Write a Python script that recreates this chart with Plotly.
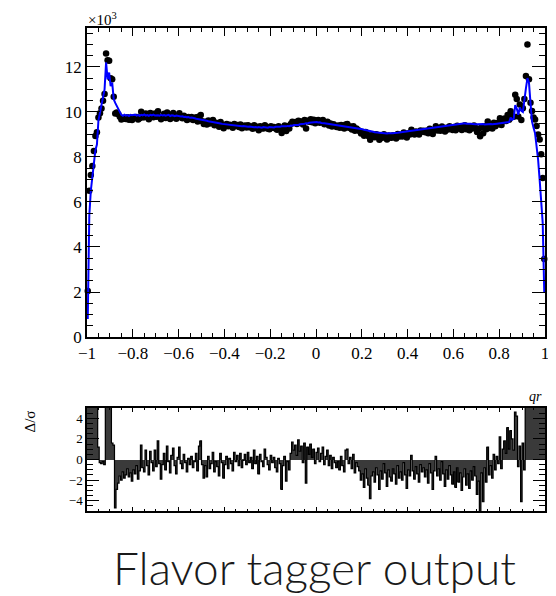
import numpy as np
import plotly.graph_objects as go

# ---- binning of the qr axis ----
n_bins = 300
x_lo, x_hi = -1.0, 1.0

# ---- data (events per bin, in units of 10^3) ----
data_counts = [
    2.04, 6.50, 7.20, 7.60, 8.27, 8.93, 9.10, 9.75, 9.94, 10.15,
    10.50, 10.80, 12.60, 12.30, 12.27, 11.50, 11.45, 10.67, 9.93, 9.98,
    9.90, 9.79, 9.67, 9.71, 9.70, 9.69, 9.77, 9.65, 9.74, 9.64,
    9.75, 9.74, 9.78, 9.67, 9.72, 10.01, 9.77, 9.77, 9.93, 9.80,
    9.68, 9.95, 9.82, 9.77, 9.93, 9.79, 10.03, 9.79, 9.68, 9.79,
    9.92, 9.73, 9.98, 9.85, 9.69, 9.89, 9.95, 9.75, 9.70, 9.84,
    9.94, 9.76, 9.72, 9.83, 9.76, 9.64, 9.78, 9.69, 9.78, 9.64,
    9.70, 9.76, 9.58, 9.80, 9.86, 9.59, 9.47, 9.56, 9.44, 9.62,
    9.49, 9.52, 9.64, 9.41, 9.52, 9.44, 9.34, 9.55, 9.44, 9.28,
    9.40, 9.47, 9.36, 9.43, 9.39, 9.30, 9.47, 9.39, 9.42, 9.33,
    9.44, 9.28, 9.36, 9.40, 9.31, 9.41, 9.32, 9.35, 9.25, 9.41,
    9.29, 9.34, 9.19, 9.37, 9.28, 9.26, 9.41, 9.34, 9.25, 9.23,
    9.36, 9.30, 9.33, 9.26, 9.21, 9.36, 9.30, 9.07, 9.29, 9.40,
    9.15, 9.36, 9.27, 9.46, 9.56, 9.51, 9.55, 9.47, 9.61, 9.53,
    9.58, 9.44, 9.64, 9.27, 9.61, 9.57, 9.68, 9.54, 9.65, 9.50,
    9.62, 9.64, 9.52, 9.57, 9.64, 9.45, 9.52, 9.57, 9.40, 9.49,
    9.35, 9.45, 9.39, 9.33, 9.40, 9.30, 9.42, 9.31, 9.26, 9.44,
    9.46, 9.30, 9.35, 9.22, 9.37, 9.17, 9.26, 9.20, 9.15, 9.04,
    9.09, 8.94, 9.11, 9.00, 8.92, 8.77, 8.97, 9.00, 8.88, 9.01,
    8.92, 8.77, 8.94, 8.85, 9.01, 8.90, 8.78, 8.95, 8.87, 8.85,
    8.96, 8.93, 8.82, 9.02, 8.91, 8.98, 8.91, 9.09, 8.98, 8.86,
    9.05, 9.00, 9.21, 9.07, 9.00, 9.13, 9.07, 9.00, 9.18, 9.12,
    9.17, 9.10, 9.16, 9.05, 9.25, 9.17, 9.02, 9.21, 9.36, 9.18,
    9.26, 9.16, 9.35, 9.24, 9.13, 9.30, 9.22, 9.36, 9.28, 9.20,
    9.33, 9.19, 9.39, 9.26, 9.36, 9.20, 9.32, 9.41, 9.23, 9.35,
    9.19, 9.37, 9.26, 9.40, 9.29, 9.11, 9.25, 8.92, 9.32, 9.05,
    9.36, 9.23, 9.58, 9.29, 9.40, 9.27, 9.52, 9.36, 9.51, 9.45,
    9.72, 9.42, 9.62, 9.71, 9.60, 9.86, 9.65, 10.03, 9.85, 9.79,
    10.76, 10.57, 9.80, 10.33, 9.64, 10.16, 10.58, 11.60, 13.00, 11.45,
    10.41, 10.04, 9.75, 9.67, 9.38, 9.00, 8.78, 8.12, 7.07, 3.47,
]

# ---- fit model per bin (units of 10^3) ----
fit_counts = [
    0.80, 5.40, 6.50, 7.00, 7.70, 8.30, 8.55, 9.63, 9.97, 10.19,
    10.52, 11.00, 12.20, 11.45, 11.75, 11.15, 11.30, 10.56, 10.40, 10.27,
    10.13, 9.95, 9.87, 9.83, 9.88, 9.84, 9.86, 9.82, 9.87, 9.85,
    9.85, 9.88, 9.84, 9.86, 9.83, 9.87, 9.85, 9.89, 9.84, 9.86,
    9.83, 9.87, 9.85, 9.88, 9.84, 9.86, 9.85, 9.83, 9.87, 9.84,
    9.86, 9.83, 9.85, 9.87, 9.82, 9.85, 9.84, 9.81, 9.84, 9.82,
    9.82, 9.80, 9.81, 9.78, 9.79, 9.76, 9.77, 9.74, 9.75, 9.72,
    9.72, 9.70, 9.69, 9.67, 9.68, 9.64, 9.65, 9.62, 9.61, 9.59,
    9.58, 9.56, 9.57, 9.53, 9.54, 9.51, 9.50, 9.49, 9.47, 9.46,
    9.45, 9.44, 9.45, 9.42, 9.43, 9.41, 9.40, 9.41, 9.38, 9.39,
    9.38, 9.36, 9.37, 9.35, 9.36, 9.34, 9.35, 9.33, 9.34, 9.32,
    9.33, 9.31, 9.33, 9.32, 9.30, 9.33, 9.31, 9.32, 9.30, 9.33,
    9.32, 9.33, 9.31, 9.34, 9.33, 9.35, 9.34, 9.36, 9.35, 9.37,
    9.36, 9.38, 9.37, 9.40, 9.39, 9.42, 9.41, 9.43, 9.42, 9.45,
    9.45, 9.47, 9.48, 9.50, 9.49, 9.52, 9.53, 9.52, 9.55, 9.54,
    9.55, 9.53, 9.54, 9.51, 9.52, 9.50, 9.49, 9.48, 9.46, 9.45,
    9.44, 9.43, 9.42, 9.41, 9.42, 9.40, 9.39, 9.37, 9.38, 9.35,
    9.36, 9.34, 9.33, 9.31, 9.32, 9.30, 9.29, 9.27, 9.26, 9.24,
    9.23, 9.21, 9.20, 9.18, 9.17, 9.15, 9.13, 9.12, 9.10, 9.09,
    9.07, 9.06, 9.05, 9.04, 9.05, 9.03, 9.04, 9.05, 9.04, 9.06,
    9.05, 9.07, 9.06, 9.08, 9.09, 9.10, 9.11, 9.12, 9.13, 9.14,
    9.15, 9.16, 9.17, 9.18, 9.19, 9.20, 9.21, 9.22, 9.23, 9.24,
    9.25, 9.27, 9.26, 9.28, 9.29, 9.30, 9.31, 9.32, 9.33, 9.34,
    9.35, 9.36, 9.37, 9.38, 9.39, 9.40, 9.41, 9.42, 9.43, 9.44,
    9.45, 9.46, 9.47, 9.48, 9.49, 9.50, 9.49, 9.50, 9.48, 9.49,
    9.47, 9.48, 9.46, 9.47, 9.45, 9.45, 9.46, 9.44, 9.45, 9.46,
    9.44, 9.45, 9.46, 9.44, 9.46, 9.45, 9.47, 9.46, 9.48, 9.49,
    9.50, 9.51, 9.52, 9.53, 9.54, 9.55, 9.55, 9.75, 9.65, 9.70,
    10.30, 10.15, 9.87, 10.20, 10.05, 10.00, 10.68, 11.05, 11.50, 11.30,
    10.40, 9.57, 9.30, 9.05, 8.46, 7.87, 6.98, 6.10, 5.07, 2.00,
]

# ---- pulls (Delta / sigma) per bin ----
pull_values = [
    8.0, 9.5, 7.5, 6.8, 7.2, 6.1, 5.6, 1.2, -0.3, -0.4,
    -0.2, -0.5, 9.0, 8.0, 7.0, 5.8, 1.6, 1.4, -4.7, -2.9,
    -2.3, -1.6, -2.0, -1.2, -1.8, -1.5, -0.9, -1.7, -1.3, -2.1,
    -1.0, -1.4, -0.6, -1.9, -1.1, 1.4, -0.8, -1.2, 0.9, -0.6,
    -1.5, 0.8, -0.3, -1.1, 0.9, -0.7, 1.8, -0.4, -1.9, -0.5,
    0.6, -1.0, 1.3, -0.2, -1.3, 0.4, 1.1, -0.6, -1.4, 0.2,
    1.2, -0.4, -0.9, 0.5, -0.3, -1.2, 0.1, -0.5, 0.3, -0.8,
    -0.2, 0.6, -1.1, 1.3, 1.8, -0.5, -1.8, -0.6, -1.7, 0.3,
    -0.9, -0.4, 0.7, -1.2, -0.2, -0.7, -1.6, 0.6, -0.3, -1.8,
    -0.5, 0.3, -0.9, 0.1, -0.4, -1.1, 0.7, -0.2, 0.4, -0.6,
    0.6, -0.8, -0.1, 0.5, -0.5, 0.7, -0.3, 0.2, -0.9, 0.9,
    -0.4, 0.3, -1.4, 0.5, -0.2, -0.7, 1.0, 0.2, -0.5, -1.0,
    0.4, -0.3, 0.2, -0.8, -1.2, 0.1, -0.4, -2.9, -0.6, 0.3,
    -2.1, -0.2, -1.0, 0.6, 1.7, 0.9, 1.4, 0.4, 1.9, 0.8,
    1.3, -0.3, 1.6, -2.3, 1.2, 0.5, 1.5, 0.2, 1.0, -0.4,
    0.7, 1.1, -0.2, 0.6, 1.2, -0.5, 0.3, 0.9, -0.6, 0.4,
    -0.9, 0.2, -0.3, -0.8, -0.2, -1.0, 0.3, -0.6, -1.2, 0.9,
    1.0, -0.4, 0.2, -0.9, 0.5, -1.3, -0.3, -0.7, -1.1, -2.0,
    -1.4, -2.7, -0.9, -1.8, -2.5, -3.8, -1.6, -1.2, -2.2, -0.8,
    -1.5, -2.9, -1.1, -1.9, -0.4, -1.3, -2.6, -1.0, -1.7, -2.1,
    -0.9, -1.4, -2.4, -0.6, -1.8, -1.2, -2.0, -0.3, -1.5, -2.8,
    -1.0, -1.6, 0.4, -1.1, -1.9, -0.7, -1.4, -2.2, -0.5, -1.2,
    -0.8, -1.7, -1.0, -2.3, -0.4, -1.3, -2.9, -1.1, 0.3, -1.6,
    -0.9, -2.0, -0.2, -1.4, -2.6, -1.0, -1.9, -0.6, -1.5, -2.4,
    -1.2, -2.7, -0.8, -2.2, -1.3, -3.0, -1.7, -0.9, -2.5, -1.4,
    -2.8, -1.1, -2.0, -0.7, -1.6, -3.4, -2.1, -5.2, -1.3, -4.1,
    -0.8, -2.2, 1.2, -1.5, -0.6, -1.8, 0.5, -1.0, 0.3, -0.4,
    2.2, -0.9, 1.0, 1.8, 0.6, 3.1, 1.0, 2.8, 2.0, 0.9,
    4.6, 4.2, -0.7, 1.3, -4.1, 1.6, -1.0, 6.2, 9.0, 7.5,
    6.8, 6.0, 7.1, 6.4, 8.2, 7.0, 6.6, 9.3, 8.1, 10.0,
]

assert len(data_counts) == n_bins and len(fit_counts) == n_bins and len(pull_values) == n_bins

title_text = "Flavor tagger output"
x_title = "qr"
pull_title = "Δ/σ"
y_scale_text = "×10<sup>3</sup>"

bin_w = (x_hi - x_lo) / n_bins
centers = x_lo + (np.arange(n_bins) + 0.5) * bin_w
data_arr = np.array(data_counts)
data_err = np.sqrt(data_arr * 1000.0) / 1000.0

SERIF = "Liberation Serif"

fig = go.Figure()

fig.add_trace(go.Scatter(
    x=centers, y=data_arr, mode="markers",
    marker=dict(color="black", size=6.5),
    error_y=dict(type="data", array=data_err, color="black", thickness=1, width=0),
    xaxis="x", yaxis="y", showlegend=False, cliponaxis=False,
))
fig.add_trace(go.Scatter(
    x=centers, y=fit_counts, mode="lines",
    line=dict(color="#0000ff", width=2),
    xaxis="x", yaxis="y", showlegend=False,
))

fig.add_trace(go.Bar(
    x=centers, y=pull_values, width=bin_w,
    marker=dict(color="#3a3a3a", line=dict(width=0)),
    xaxis="x2", yaxis="y2", showlegend=False,
))
fig.add_trace(go.Scatter(
    x=centers, y=pull_values, mode="lines",
    line=dict(color="black", width=1.2, shape="hvh"),
    xaxis="x2", yaxis="y2", showlegend=False,
))

axis_common = dict(
    showline=True, linecolor="black", linewidth=1.5, mirror="ticks",
    ticks="inside", tickcolor="black", showgrid=False, zeroline=False,
)

# The page body adds an 8px offset, so the figure is 8px smaller and margins shifted.
fig.update_layout(
    width=548, height=588,
    margin=dict(l=79, r=7, t=20, b=85),
    paper_bgcolor="white", plot_bgcolor="white",
    bargap=0,
    xaxis=dict(
        domain=[0, 1], anchor="y", range=[x_lo, x_hi],
        tickmode="linear", tick0=-1, dtick=0.2, ticklen=8, tickwidth=1.3,
        minor=dict(ticks="inside", dtick=0.05, tick0=-1, ticklen=4, tickcolor="black", tickwidth=1),
        tickfont=dict(family=SERIF, size=17, color="black"),
        **axis_common,
    ),
    yaxis=dict(
        domain=[0.3602, 1], anchor="x", range=[0, 13.73],
        tickmode="linear", tick0=0, dtick=2, ticklen=13, tickwidth=1.3,
        minor=dict(ticks="inside", dtick=0.5, tick0=0, ticklen=6.5, tickcolor="black", tickwidth=1),
        tickfont=dict(family=SERIF, size=17, color="black"),
        **axis_common,
    ),
    xaxis2=dict(
        domain=[0, 1], anchor="y2", range=[x_lo, x_hi],
        tickmode="linear", tick0=-1, dtick=0.2, ticklen=4, tickwidth=1,
        minor=dict(ticks="inside", dtick=0.05, tick0=-1, ticklen=2, tickcolor="black", tickwidth=1),
        showticklabels=False,
        **axis_common,
    ),
    yaxis2=dict(
        domain=[0, 0.2133], anchor="x2", range=[-5, 5],
        tickmode="linear", tick0=0, dtick=2, ticklen=12, tickwidth=1.3,
        minor=dict(ticks="inside", dtick=0.5, tick0=0, ticklen=6, tickcolor="black", tickwidth=1),
        tickfont=dict(family=SERIF, size=13, color="black"),
        **axis_common,
    ),
    annotations=[
        dict(text=y_scale_text, x=-0.002, y=1.0, xref="paper", yref="paper",
             xanchor="left", yanchor="bottom", showarrow=False, yshift=-2,
             font=dict(family=SERIF, size=15, color="black")),
        dict(text=pull_title, x=-0.1234, y=0.1863, xref="paper", yref="paper",
             xanchor="center", yanchor="middle", textangle=-90, showarrow=False,
             font=dict(family=SERIF, size=15, color="black")),
        dict(text="<i>" + x_title + "</i>", x=0.998, y=0.238, xref="paper", yref="paper",
             xanchor="right", yanchor="middle", showarrow=False,
             font=dict(family=SERIF, size=14, color="black")),
        dict(text=title_text, x=0.4957, y=-0.118, xref="paper", yref="paper",
             xanchor="center", yanchor="middle", showarrow=False,
             font=dict(family="Lato", size=46, color="#1a1a1a", weight=300)),
    ],
)

fig.write_html("out.html")
